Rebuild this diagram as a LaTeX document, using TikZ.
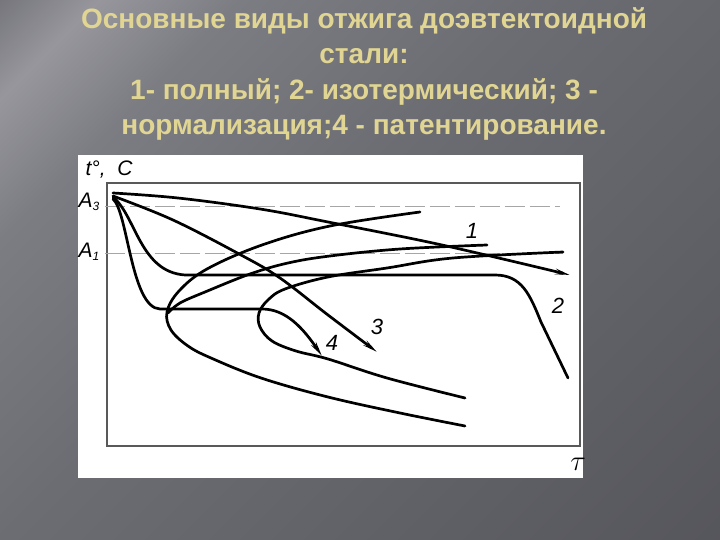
\documentclass[tikz,border=0pt]{standalone}
\usepackage{fontspec}
\setmainfont{Liberation Sans}
\usetikzlibrary{arrows.meta, positioning}

\definecolor{bgA}{RGB}{66,66,72}
\definecolor{bgB}{RGB}{104,104,111}
\definecolor{bgC}{RGB}{150,150,156}
\definecolor{bgD}{RGB}{124,124,131}
\definecolor{bgE}{RGB}{108,108,115}
\definecolor{bgF}{RGB}{94,94,101}
\definecolor{bgG}{RGB}{78,78,84}
\definecolor{titlegold}{RGB}{224,213,146}

\pgfdeclarehorizontalshading{slidebg}{100bp}{color(0bp)=(bgA); color(12bp)=(bgB); color(20bp)=(bgC); color(28bp)=(bgD); color(45bp)=(bgE); color(70bp)=(bgF); color(100bp)=(bgG)}

\newcommand{\lvl}[1]{{\itshape A}{\fontsize{6}{6}\selectfont\raisebox{-1.5pt}{#1}}}

\begin{document}
\begin{tikzpicture}[x=0.5pt, y=-0.5pt,
    curve/.style={line width=1.35pt, line cap=round, line join=round},
    arrowcurve/.style={curve, -{Stealth[length=7pt, width=2.6pt]}},
    level/.style={black!35, line width=0.5pt, dash pattern=on 10pt off 2.5pt},
    frame/.style={draw=black!65, line width=0.6pt},
    numlabel/.style={font=\itshape\fontsize{11}{13}\selectfont, inner sep=0pt},
    axislabel/.style={font=\itshape\fontsize{10.5}{12}\selectfont, inner sep=0pt},
    title/.style={text=titlegold, font=\bfseries\fontsize{14}{17.8}\selectfont, align=center}
]
    % slide background
    \shade[shading=slidebg, shading angle=-45] (0,0) rectangle (720,540);
    \useasboundingbox (0,0) rectangle (720,540);

    \node[title] (title) at (364,74) {Основные виды отжига доэвтектоидной\\стали:\\1- полный; 2- изотермический; 3 -\\нормализация;4 - патентирование.};

    % diagram panel
    \fill[white] (78,155) rectangle (583,478);
    \draw[frame] (107,183) rectangle (580,446);

    \draw[level] (105,207) -- (560,207);
    \draw[level] (105,254) -- (563,254);

    \node[axislabel] (temp) at (109,170) {t°,\; C};
    \node[axislabel] (athree) at (89,202) {\lvl{3}};
    \node[axislabel] (aone) at (89,252) {\lvl{1}};
    \node[inner sep=0pt, font=\fontsize{14}{16}\selectfont] (tau) at (578,464) {$\tau$};

    % C-curves
    \draw[curve] plot[smooth, tension=0.6] coordinates {(420,212) (330,226) (262,245) (207,269) (179,291) (167,312) (171,330) (188,346) (211,358) (261,378) (328,397) (400,413) (465,426)};
    \draw[curve] plot[smooth, tension=0.6] coordinates {(487,245) (400,249) (330,256) (288,263) (250,274) (205,292) (180,303) (168,313)};
    \draw[curve] plot[smooth, tension=0.6] coordinates {(563,252) (453,258) (387,268) (328,277) (285,289) (268,300) (259,313) (260,327) (272,341) (296,351) (328,359) (387,378) (465,398)};

    % cooling curves
    \draw[arrowcurve] plot[smooth, tension=0.6] coordinates {(113,193) (178,198) (260,209) (328,222) (442,245) (570,275)};
    \draw[curve] (113,197) .. controls (136,216) and (140,272) .. (185,275) -- (495,275) .. controls (522,275) and (530,295) .. (541,322) -- (568,378);
    \draw[arrowcurve] plot[smooth, tension=0.6] coordinates {(113,196) (173,220) (241,255) (280,278) (328,315) (377,352)};
    \draw[arrowcurve] (113,199) .. controls (128,212) and (131,308) .. (160,309) -- (262,309) .. controls (286,309) and (303,328) .. (322,356);

    \node[numlabel] (lab1) at (472,231) {1};
    \node[numlabel] (lab2) at (558,306) {2};
    \node[numlabel] (lab3) at (377,327) {3};
    \node[numlabel] (lab4) at (332,343) {4};
\end{tikzpicture}
\end{document}
